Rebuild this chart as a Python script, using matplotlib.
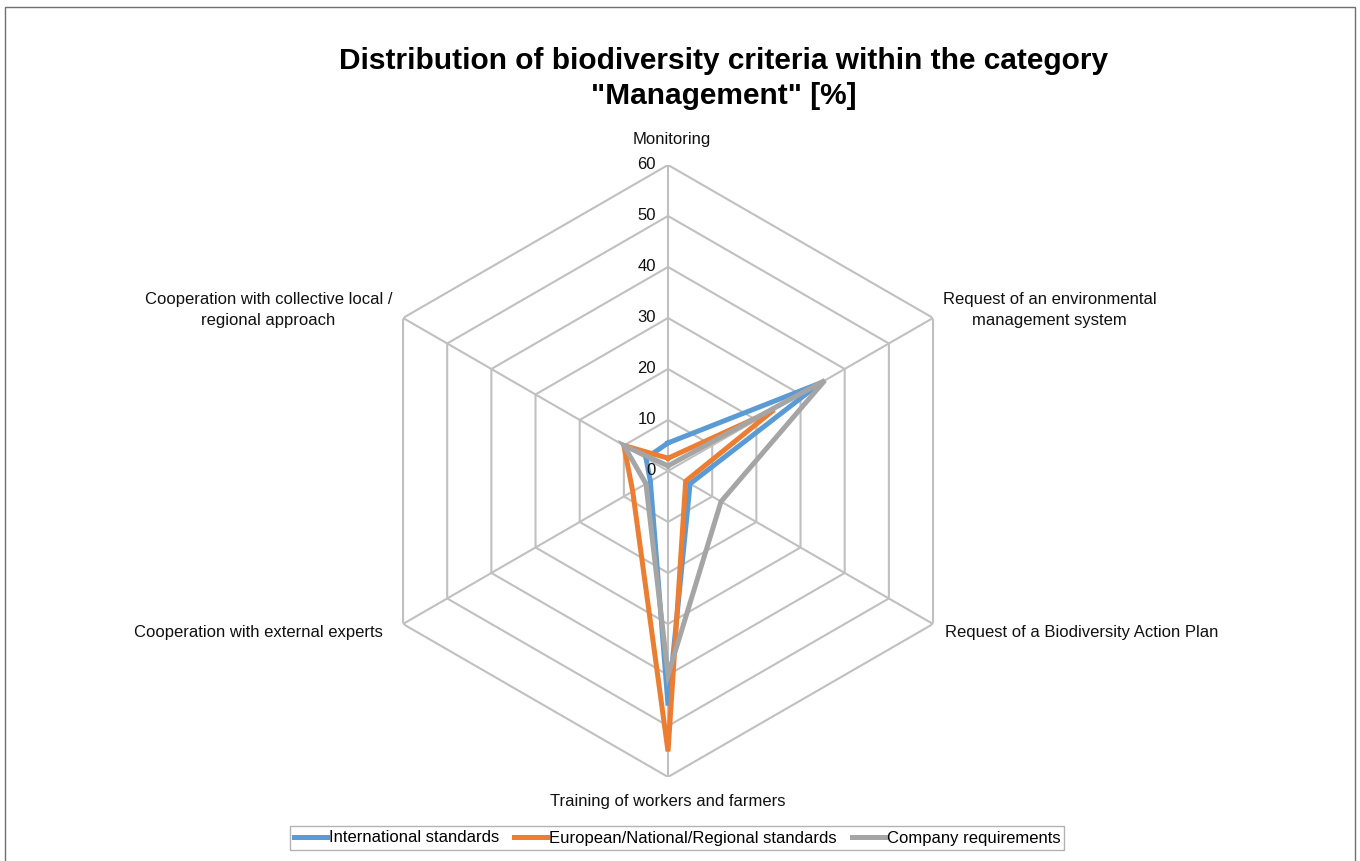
import numpy as np
import matplotlib
matplotlib.use("Agg")
import matplotlib.pyplot as plt
from matplotlib.patches import Rectangle

plt.rcParams['font.family'] = ['Liberation Sans', 'DejaVu Sans']

# categories, clockwise from the top
categories = [
    "Monitoring",
    "Request of an environmental\nmanagement system",
    "Request of a Biodiversity Action Plan",
    "Training of workers and farmers",
    "Cooperation with external experts",
    "Cooperation with collective local /\nregional approach",
]
series_names = ["International standards",
                "European/National/Regional standards",
                "Company requirements"]
international = [5.5, 34.5, 5, 46, 4, 5]
european = [2.5, 24, 4, 55, 8, 10]
company = [1, 35.5, 12, 40, 5, 10]
r_ticks = [0, 10, 20, 30, 40, 50, 60]

colors = ["#5b9bd5", "#ed7d31", "#a5a5a5"]
grid_color = "#c0c0c0"

fig = plt.figure(figsize=(13.6, 8.61), dpi=100)

# outer frame of the chart area
fig.patches.append(Rectangle((5 / 1360, -0.05), 1350 / 1360, 1.05 - 7 / 861,
                             transform=fig.transFigure, fill=False,
                             edgecolor="#707070", linewidth=1.0))

ax = fig.add_axes([0.2662, 0.0976, 0.45, 0.7108], projection="polar")
ax.set_theta_offset(np.pi / 2)
ax.set_theta_direction(-1)
ax.set_ylim(0, 60)
ax.grid(False)
ax.set_xticks([])
ax.set_yticks([])
ax.spines["polar"].set_visible(False)
ax.patch.set_visible(False)

n = len(categories)
theta = np.arange(n) * 2 * np.pi / n
theta_closed = np.append(theta, theta[0])

# hexagonal grid
for r in r_ticks[1:]:
    ax.plot(theta_closed, [r] * (n + 1), color=grid_color, lw=1.5, zorder=1)
for t in theta:
    ax.plot([t, t], [0, r_ticks[-1]], color=grid_color, lw=1.5, zorder=1)

# value labels along the top axis (drawn above the series)
for r in r_ticks:
    ax.annotate(str(r), xy=(0, r), xytext=(-12, 0), textcoords="offset pixels",
                ha="right", va="center", fontsize=12, color="#111111", zorder=5)

# data series
for vals, name, c in zip([international, european, company], series_names, colors):
    ax.plot(theta_closed, vals + vals[:1], color=c, lw=3.6, label=name,
            solid_joinstyle="miter", zorder=3)

# category labels
label_offsets = [
    ((4, 18), "center", "bottom"),
    ((10, 8), "left", "center"),
    ((12, -9), "left", "center"),
    ((0, -17), "center", "top"),
    ((-20, -9), "right", "center"),
    ((-11, 8), "right", "center"),
]
for t, lab, (off, ha, va) in zip(theta, categories, label_offsets):
    ax.annotate(lab, xy=(t, r_ticks[-1]), xytext=off, textcoords="offset pixels",
                ha=ha, va=va, multialignment="center", fontsize=12,
                color="#111111", linespacing=1.45, annotation_clip=False)

fig.text(724 / 1360, 1 - 78.5 / 861,
         'Distribution of biodiversity criteria within the category\n"Management" [%]',
         ha="center", va="center", fontsize=21.5, fontweight="bold",
         linespacing=1.35)

leg = fig.legend(loc="center", bbox_to_anchor=(677 / 1360, 1 - 838 / 861),
                 ncol=3, fontsize=12, frameon=True, fancybox=False,
                 edgecolor="#a0a0a0", handlelength=2.0, handletextpad=0.1,
                 columnspacing=0.9, borderpad=0.25)
leg.get_frame().set_linewidth(1.0)

fig.savefig("out.png", dpi=100)
